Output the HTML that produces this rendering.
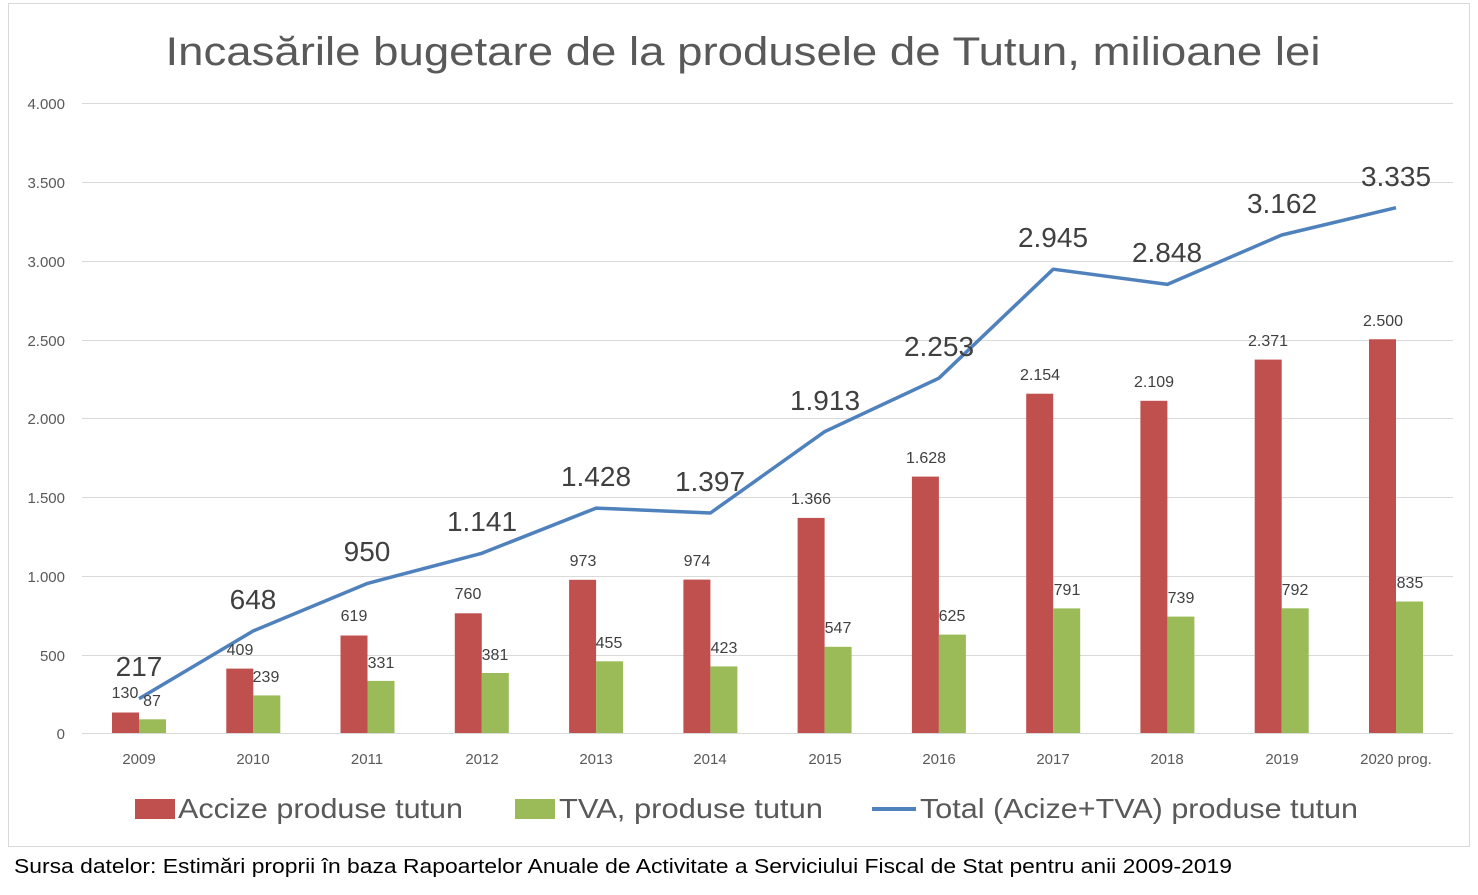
<!DOCTYPE html>
<html><head><meta charset="utf-8"><style>
body{margin:0;background:#fff;}
svg text{font-family:"Liberation Sans",sans-serif;}
</style></head><body>
<svg width="1478" height="890" xmlns="http://www.w3.org/2000/svg">
<rect x="0" y="0" width="1478" height="890" fill="#fff"/>
<rect x="8.5" y="3.5" width="1461" height="843" fill="none" stroke="#d9d9d9" stroke-width="1"/>
<text x="743" y="65" font-size="40" fill="#595959" text-anchor="middle" textLength="1155" lengthAdjust="spacingAndGlyphs">Incasările bugetare de la produsele de Tutun, milioane lei</text>
<g stroke="#d9d9d9" stroke-width="1">
<line x1="82" x2="1453" y1="103.5" y2="103.5"/><line x1="82" x2="1453" y1="182.5" y2="182.5"/>
<line x1="82" x2="1453" y1="261.5" y2="261.5"/><line x1="82" x2="1453" y1="340.5" y2="340.5"/>
<line x1="82" x2="1453" y1="418.5" y2="418.5"/><line x1="82" x2="1453" y1="497.5" y2="497.5"/>
<line x1="82" x2="1453" y1="576.5" y2="576.5"/><line x1="82" x2="1453" y1="655.5" y2="655.5"/>
<line x1="82" x2="1453" y1="733.5" y2="733.5"/>
</g>
<g font-size="15" fill="#595959" text-anchor="end">
<text x="65" y="109">4.000</text><text x="65" y="188">3.500</text><text x="65" y="267">3.000</text>
<text x="65" y="346">2.500</text><text x="65" y="424">2.000</text><text x="65" y="503">1.500</text>
<text x="65" y="582">1.000</text><text x="65" y="661">500</text><text x="65" y="739">0</text>
</g>
<g fill="#c0504d">
<rect x="112" y="712.5" width="27" height="20.5"/><rect x="226.3" y="668.6" width="27" height="64.4"/>
<rect x="340.5" y="635.5" width="27" height="97.5"/><rect x="454.8" y="613.3" width="27" height="119.7"/>
<rect x="569.1" y="579.8" width="27" height="153.2"/><rect x="683.4" y="579.6" width="27" height="153.4"/>
<rect x="797.6" y="517.9" width="27" height="215.1"/><rect x="911.9" y="476.6" width="27" height="256.4"/>
<rect x="1026.2" y="393.7" width="27" height="339.3"/><rect x="1140.4" y="400.8" width="27" height="332.2"/>
<rect x="1254.7" y="359.6" width="27" height="373.4"/><rect x="1369" y="339.25" width="27" height="393.75"/>
</g>
<g fill="#9bbb59">
<rect x="139" y="719.3" width="27" height="13.7"/><rect x="253.3" y="695.4" width="27" height="37.6"/>
<rect x="367.5" y="680.9" width="27" height="52.1"/><rect x="481.8" y="673" width="27" height="60"/>
<rect x="596.1" y="661.3" width="27" height="71.7"/><rect x="710.4" y="666.4" width="27" height="66.6"/>
<rect x="824.6" y="646.8" width="27" height="86.2"/><rect x="938.9" y="634.6" width="27" height="98.4"/>
<rect x="1053.2" y="608.4" width="27" height="124.6"/><rect x="1167.4" y="616.6" width="27" height="116.4"/>
<rect x="1281.7" y="608.3" width="27" height="124.7"/><rect x="1396" y="601.5" width="27" height="131.5"/>
</g>
<polyline fill="none" stroke="#4f81bd" stroke-width="3.5" stroke-linejoin="round" points="139,698.8 253.3,630.9 367.5,583.4 481.8,553.3 596.1,508.1 710.4,513 824.6,431.7 938.9,378.2 1053.2,269.2 1167.4,284.4 1281.7,235 1396,207.7"/>
<g font-size="16" fill="#404040" text-anchor="middle">
<text x="125" y="698">130</text><text x="240" y="655">409</text><text x="354" y="621">619</text>
<text x="468" y="599">760</text><text x="583" y="566">973</text><text x="697" y="566">974</text>
<text x="811" y="504">1.366</text><text x="926" y="463">1.628</text><text x="1040" y="380">2.154</text>
<text x="1154" y="387">2.109</text><text x="1268" y="346">2.371</text><text x="1383" y="326">2.500</text>
<text x="152" y="706">87</text><text x="266" y="682">239</text><text x="381" y="668">331</text>
<text x="495" y="660">381</text><text x="609" y="648">455</text><text x="724" y="653">423</text>
<text x="838" y="633">547</text><text x="952" y="621">625</text><text x="1067" y="595">791</text>
<text x="1181" y="603">739</text><text x="1295" y="595">792</text><text x="1410" y="588">835</text>
</g>
<g font-size="28" fill="#404040" text-anchor="middle">
<text x="139" y="676">217</text><text x="253" y="609">648</text><text x="367" y="561">950</text>
<text x="482" y="531">1.141</text><text x="596" y="486">1.428</text><text x="710" y="491">1.397</text>
<text x="825" y="410">1.913</text><text x="939" y="356">2.253</text><text x="1053" y="247">2.945</text>
<text x="1167" y="262">2.848</text><text x="1282" y="213">3.162</text><text x="1396" y="186">3.335</text>
</g>
<g font-size="15" fill="#595959" text-anchor="middle">
<text x="139" y="764">2009</text><text x="253" y="764">2010</text><text x="367" y="764">2011</text>
<text x="482" y="764">2012</text><text x="596" y="764">2013</text><text x="710" y="764">2014</text>
<text x="825" y="764">2015</text><text x="939" y="764">2016</text><text x="1053" y="764">2017</text>
<text x="1167" y="764">2018</text><text x="1282" y="764">2019</text><text x="1396" y="764">2020 prog.</text>
</g>
<rect x="135" y="799" width="40" height="20" fill="#c0504d"/>
<text x="178" y="818" font-size="28" fill="#595959" textLength="285" lengthAdjust="spacingAndGlyphs">Accize produse tutun</text>
<rect x="515" y="799" width="40" height="20" fill="#9bbb59"/>
<text x="559" y="818" font-size="28" fill="#595959" textLength="264" lengthAdjust="spacingAndGlyphs">TVA, produse tutun</text>
<line x1="872" x2="916" y1="809" y2="809" stroke="#4f81bd" stroke-width="4"/>
<text x="920" y="818" font-size="28" fill="#595959" textLength="438" lengthAdjust="spacingAndGlyphs">Total (Acize+TVA) produse tutun</text>
<text x="14" y="873" font-size="20" fill="#000" textLength="1218" lengthAdjust="spacingAndGlyphs">Sursa datelor: Estimări proprii în baza Rapoartelor Anuale de Activitate a Serviciului Fiscal de Stat pentru anii 2009-2019</text>
</svg>
</body></html>
